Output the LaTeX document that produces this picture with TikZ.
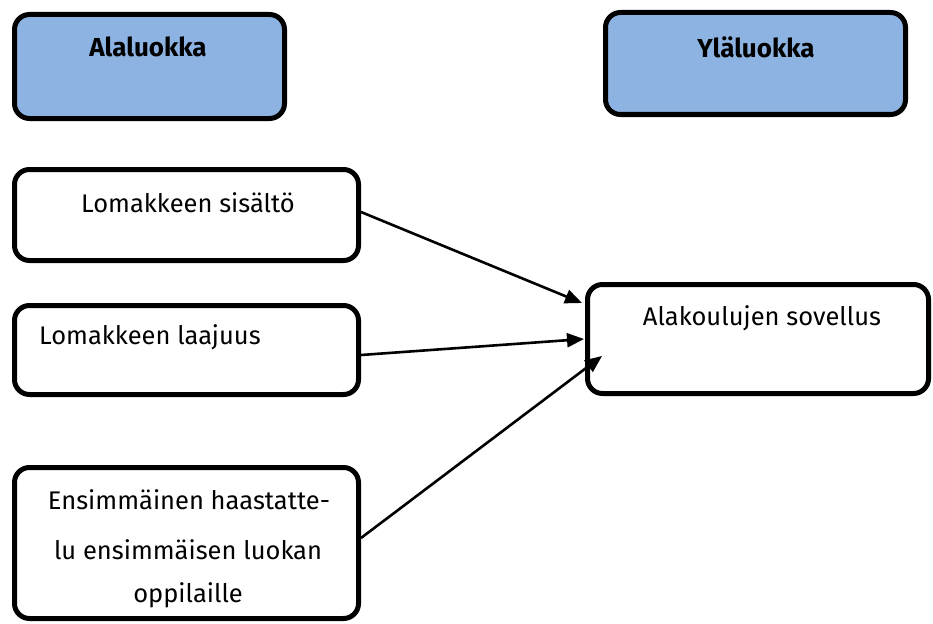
\documentclass[tikz,border=0pt]{standalone}
\usepackage{fontspec}
\setmainfont{Fira Sans}
\usetikzlibrary{arrows.meta}
\definecolor{headblue}{HTML}{8DB3E2}
\begin{document}
\begin{tikzpicture}[x=1pt,y=-1pt,
  box/.style={draw,line width=5pt,rounded corners=15pt,inner sep=0pt},
  head/.style={box,fill=headblue},
  txt/.style={font=\fontsize{25.5}{30}\selectfont,inner sep=0pt},
  htxt/.style={font=\bfseries\fontsize{26}{30}\selectfont,inner sep=0pt},
  conn/.style={line width=2.6pt,-{Triangle[length=17pt,width=14pt]}}]
\useasboundingbox (0,0) rectangle (933,623);
\node[head,minimum width=270pt,minimum height=104pt] (a) at (149.5,66.5) {};
\node[head,minimum width=300pt,minimum height=102pt] (y) at (755.5,63.5) {};
\node[box,minimum width=344pt,minimum height=91pt] (s1) at (186.5,215) {};
\node[box,minimum width=344pt,minimum height=89pt] (s2) at (186.5,350) {};
\node[box,minimum width=344pt,minimum height=151pt] (s3) at (186.5,543) {};
\node[box,minimum width=341pt,minimum height=109pt] (t) at (758,339) {};
\node[htxt] (ta) at (148,47) {Alaluokka};
\node[htxt] (ty) at (756,47) {Yläluokka};
\node[txt] (t1) at (188,203) {Lomakkeen sisältö};
\node[txt,anchor=west] (t2) at (39,337) {Lomakkeen laajuus};
\node[txt] (tt) at (762,318) {Alakoulujen sovellus};
\node[txt] (t3a) at (189,500) {Ensimmäinen haastatte-};
\node[txt] (t3b) at (188,550) {lu ensimmäisen luokan};
\node[txt] (t3c) at (188,595) {oppilaille};
\coordinate (e1) at ([xshift=-3pt,yshift=36pt]t.west);
\coordinate (e2) at ([xshift=-1pt,yshift=0pt]t.west);
\coordinate (e3) at ([xshift=17pt,yshift=-17pt]t.west);
\draw[conn] ([yshift=3pt]s1.east) -- (e1);
\draw[conn] ([yshift=-5pt]s2.east) -- (e2);
\draw[conn] ([yshift=5pt]s3.east) -- (e3);
\end{tikzpicture}
\end{document}
